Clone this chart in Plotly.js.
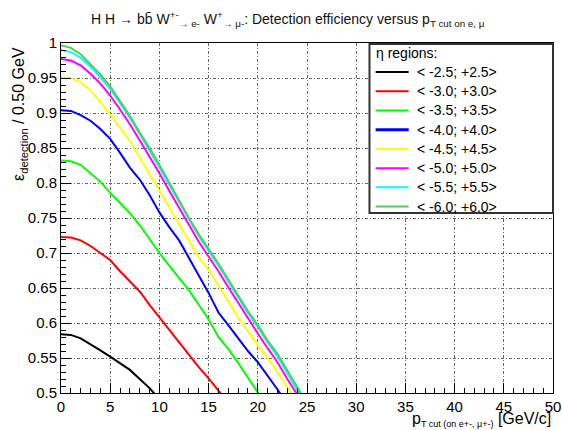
<!DOCTYPE html>
<html>
<head>
<meta charset="utf-8">
<script src="https://cdn.plot.ly/plotly-3.0.1.min.js"></script>
<style>html,body{margin:0;padding:0;background:#fff;}#chart{width:562px;height:430px;}</style>
</head>
<body>
<div id="chart"></div>
<script>
// pT cut values [GeV/c]
const ptCut = [0,1,2,3,4,5,6,7,8,9,10,11,12,13,14,15,16,17,18,19,20,21,22,23,24,25];

// region labels
const legendTitle = "η regions:";
const regionLabels = ["< -2.5; +2.5>","< -3.0; +3.0>","< -3.5; +3.5>","< -4.0; +4.0>",
                      "< -4.5; +4.5>","< -5.0; +5.0>","< -5.5; +5.5>","< -6.0; +6.0>"];

// detection efficiency per region
const eff25 = [0.584,0.583,0.578,0.570,0.561,0.552,0.543,0.533,0.520,0.507,0.491];
const eff30 = [0.723,0.722,0.718,0.710,0.700,0.690,0.674,0.660,0.645,0.626,0.608,0.590,0.572,0.554,0.537,0.521,0.504,0.486];
const eff35 = [0.832,0.831,0.826,0.814,0.802,0.786,0.772,0.757,0.740,0.720,0.700,0.682,0.664,0.647,0.626,0.605,0.580,0.563,0.543,0.522,0.501,0.480];
const eff40 = [0.904,0.903,0.897,0.889,0.877,0.863,0.843,0.822,0.805,0.783,0.758,0.737,0.718,0.694,0.668,0.643,0.615,0.597,0.578,0.560,0.544,0.525,0.505,0.484];
const eff45 = [0.951,0.950,0.944,0.932,0.916,0.898,0.879,0.860,0.836,0.812,0.788,0.764,0.740,0.716,0.694,0.676,0.653,0.630,0.608,0.588,0.568,0.550,0.530,0.508,0.488];
const eff50 = [0.977,0.975,0.968,0.956,0.942,0.925,0.905,0.884,0.861,0.838,0.814,0.789,0.764,0.739,0.716,0.695,0.674,0.651,0.629,0.606,0.585,0.564,0.544,0.520,0.497,0.476];
const eff55 = [0.990,0.987,0.979,0.966,0.951,0.934,0.914,0.893,0.870,0.847,0.822,0.797,0.772,0.748,0.724,0.703,0.682,0.659,0.637,0.614,0.594,0.572,0.552,0.528,0.503,0.480];
const eff60 = [0.997,0.993,0.984,0.970,0.955,0.938,0.917,0.896,0.872,0.850,0.826,0.800,0.775,0.750,0.727,0.706,0.685,0.662,0.640,0.617,0.597,0.575,0.556,0.532,0.507,0.485];

const series = [eff25, eff30, eff35, eff40, eff45, eff50, eff55, eff60];
const colors = ["#000000","#ff0000","#00ff00","#0000ff","#ffff00","#ff00ff","#00ffff","#55cc55"];

const FONT = "Liberation Sans, Arial, Helvetica, sans-serif";

const traces = series.map((vals, i) => ({
  type: "scatter",
  mode: "lines",
  x: ptCut.slice(0, vals.length),
  y: vals,
  name: regionLabels[i],
  line: {color: colors[i], width: 2, shape: "linear"},
  hoverinfo: "skip",
  showlegend: false
}));

// Legend box drawn in paper coordinates (ROOT-style TLegend)
const box = {x0: 0.627, x1: 1.0, y0: 0.514, y1: 0.997};
const rowTop = 0.917, rowStep = 0.0549;
const shapes = [{
  type: "rect", xref: "paper", yref: "paper",
  x0: box.x0, x1: box.x1, y0: box.y0, y1: box.y1,
  fillcolor: "#ffffff", line: {color: "#333", width: 2}, layer: "above"
}];
const annotations = [{
  text: legendTitle, xref: "paper", yref: "paper",
  x: box.x0 + 0.01, y: 0.971, xanchor: "left", yanchor: "middle",
  showarrow: false, font: {family: FONT, size: 14, color: "#000"}
}];
regionLabels.forEach((lab, i) => {
  const yy = rowTop - i * rowStep;
  shapes.push({
    type: "line", xref: "paper", yref: "paper",
    x0: 0.6395, x1: 0.7067, y0: yy, y1: yy,
    line: {color: colors[i], width: (i === 3 ? 3 : 2)}, layer: "above"
  });
  annotations.push({
    text: lab, xref: "paper", yref: "paper",
    x: 0.719, y: yy, xanchor: "left", yanchor: "middle",
    showarrow: false, font: {family: FONT, size: 14, color: "#000"}
  });
});

annotations.push({
  text: "ε<sub>detection</sub> / 0.50 GeV",
  xref: "paper", yref: "paper",
  x: -0.083, y: 0.995,
  xanchor: "center", yanchor: "top",
  textangle: -90, showarrow: false,
  font: {family: FONT, size: 16, color: "#000"}
});
annotations.push({
  text: "p<sub><span style=\"font-size:9px\">T cut (on e+-, μ+-)</span></sub> [GeV/c]",
  xref: "paper", yref: "paper",
  x: 1.0, y: -0.076,
  xanchor: "right", yanchor: "middle",
  showarrow: false,
  font: {family: FONT, size: 16, color: "#000"}
});

const layout = {
  width: 562, height: 430,
  margin: {l: 61, r: 9, t: 43, b: 37},
  paper_bgcolor: "#ffffff",
  plot_bgcolor: "#ffffff",
  font: {family: FONT, color: "#000", size: 15},
  showlegend: false,
  title: {
    text: "H H → bb̄ W<sup>+-</sup><sub>→ e-</sub> W<sup>+</sup><sub>→ μ-</sub>: Detection efficiency versus p<sub>T cut on e, μ</sub>",
    font: {family: FONT, size: 14, color: "#111"},
    x: 0.512, xref: "container", xanchor: "center",
    y: 0.955, yref: "container", yanchor: "middle"
  },
  xaxis: {
    range: [0, 50],
    dtick: 5, tick0: 0,
    ticks: "inside", ticklen: 10, tickcolor: "#000", tickwidth: 1,
    minor: {dtick: 1, ticks: "inside", ticklen: 5, tickcolor: "#000", showgrid: false},
    showline: true, linecolor: "#000", linewidth: 1, mirror: true,
    showgrid: true, gridcolor: "#666", griddash: "3px,2px,1px,2px", gridwidth: 1,
    zeroline: false,
    tickfont: {family: FONT, size: 15, color: "#000"},
    fixedrange: true
  },
  yaxis: {
    range: [0.5, 1.0],
    dtick: 0.05, tick0: 0.5,
    ticks: "inside", ticklen: 10, tickcolor: "#000", tickwidth: 1,
    minor: {dtick: 0.01, ticks: "inside", ticklen: 5, tickcolor: "#000", showgrid: false},
    showline: true, linecolor: "#000", linewidth: 1, mirror: true,
    showgrid: true, gridcolor: "#666", griddash: "3px,2px,1px,2px", gridwidth: 1,
    zeroline: false,
    tickfont: {family: FONT, size: 15, color: "#000"},
    fixedrange: true
  },
  shapes: shapes,
  annotations: annotations
};

Plotly.newPlot("chart", traces, layout, {staticPlot: true, displayModeBar: false});
</script>
</body>
</html>
